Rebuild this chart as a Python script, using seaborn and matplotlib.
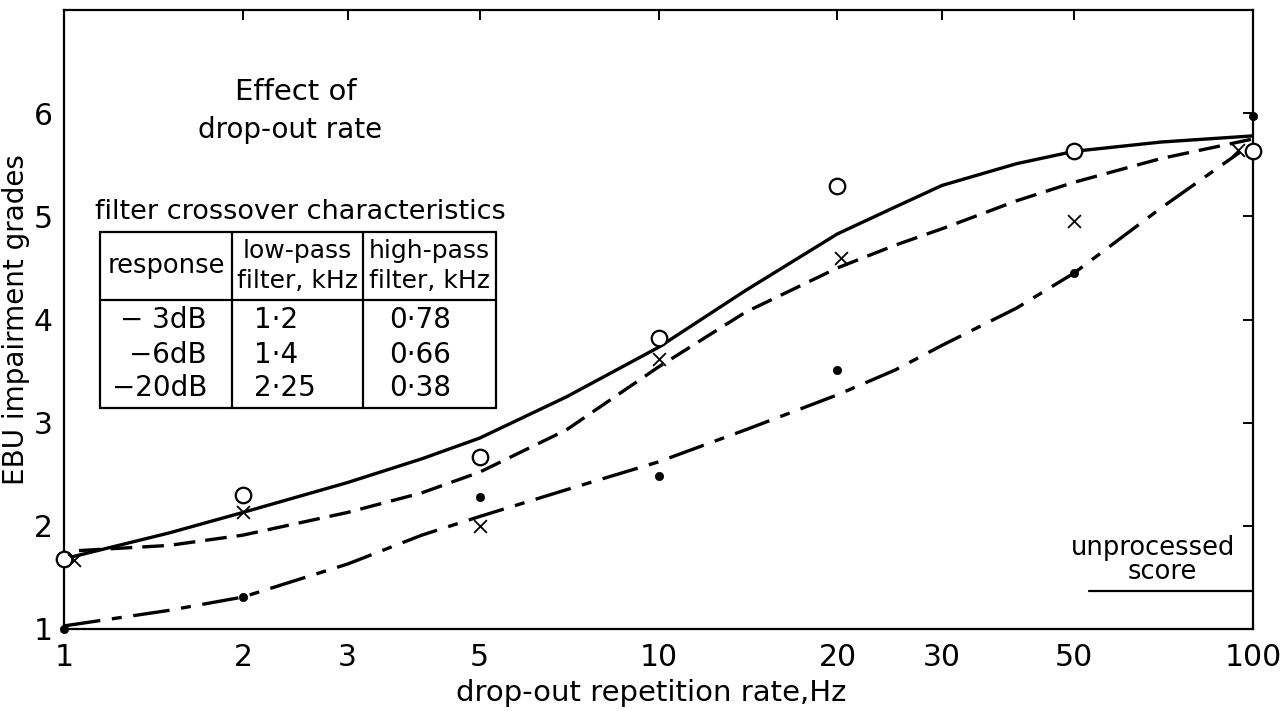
import matplotlib
matplotlib.use("Agg")
import matplotlib.pyplot as plt
from matplotlib.ticker import NullLocator, FixedLocator, FixedFormatter
import seaborn as sns

# measured points (open circles, crosses, filled dots)
circles_x = [1, 2, 5, 10, 20, 50, 100]
circles_y = [1.68, 2.30, 2.67, 3.82, 5.29, 5.63, 5.63]
crosses_x = [1.04, 2, 5, 10, 20.3, 50, 94.5]
crosses_y = [1.67, 2.13, 2.00, 3.62, 4.60, 4.95, 5.64]
dots_x = [1, 2, 5, 10, 20, 50, 100]
dots_y = [1.00, 1.31, 2.28, 2.48, 3.51, 4.45, 5.97]

solid_x = [1, 1.5, 2, 3, 4, 5, 7, 10, 14, 20, 25, 30, 40, 50, 70, 100]
solid_y = [1.68, 1.93, 2.13, 2.42, 2.65, 2.85, 3.25, 3.73, 4.28, 4.83, 5.09, 5.30, 5.51, 5.63, 5.72, 5.78]
dashed_x = [1.06, 1.5, 2, 3, 4, 5, 7, 10, 14, 20, 25, 30, 40, 50, 70, 100]
dashed_y = [1.76, 1.81, 1.91, 2.13, 2.32, 2.52, 2.93, 3.54, 4.07, 4.50, 4.72, 4.88, 5.15, 5.33, 5.56, 5.75]
dashdot_x = [1, 1.5, 2, 3, 4, 5, 7, 10, 14, 20, 25, 30, 40, 50, 70, 95]
dashdot_y = [1.03, 1.18, 1.31, 1.63, 1.91, 2.09, 2.35, 2.62, 2.93, 3.27, 3.51, 3.75, 4.11, 4.45, 5.08, 5.62]

unprocessed_score = 1.37
unprocessed_span = [53, 100]

x_ticks = [1, 2, 3, 5, 10, 20, 30, 50, 100]
y_ticks = [1, 2, 3, 4, 5, 6]

table_header = ["response", "low-pass\nfilter, kHz", "high-pass\nfilter, kHz"]
table_response = ["\u2212 3dB", "\u22126dB", "\u221220dB"]
table_lowpass = ["1\u00b72", "1\u00b74", "2\u00b725"]
table_highpass = ["0\u00b778", "0\u00b766", "0\u00b738"]

sns.set_style("white")
plt.rcParams['font.family'] = ['DejaVu Sans']
plt.rcParams['text.color'] = 'black'
plt.rcParams['axes.labelcolor'] = 'black'

fig = plt.figure(figsize=(12.88, 7.11), dpi=100)
ax = fig.add_axes([64 / 1288, 82 / 711, 1189 / 1288, 619 / 711])

lw = 2.4
sns.lineplot(x=solid_x, y=solid_y, ax=ax, color='black', lw=lw, sort=False, estimator=None)
sns.lineplot(x=dashed_x, y=dashed_y, ax=ax, color='black', lw=lw, sort=False, estimator=None,
             linestyle=(0, (6.5, 3)))
sns.lineplot(x=dashdot_x, y=dashdot_y, ax=ax, color='black', lw=lw, sort=False, estimator=None,
             linestyle=(0, (11, 3.5, 3, 3.5)))

sns.scatterplot(x=circles_x, y=circles_y, ax=ax, marker='o', s=125, facecolor='white',
                edgecolor='black', linewidth=1.6, zorder=5, clip_on=False)
sns.scatterplot(x=crosses_x, y=crosses_y, ax=ax, marker='x', s=85, color='black',
                linewidth=1.3, zorder=5, clip_on=False)
sns.scatterplot(x=dots_x, y=dots_y, ax=ax, marker='o', s=36, color='black',
                edgecolor='black', zorder=5, clip_on=False)

ax.plot(unprocessed_span, [unprocessed_score] * 2, color='black', lw=1.6)
ax.text(0.916, 0.131, "unprocessed", transform=ax.transAxes, ha='center', va='center', fontsize=18.5)
ax.text(0.924, 0.092, "score", transform=ax.transAxes, ha='center', va='center', fontsize=18.5)

ax.set_xscale('log')
ax.set_xlim(1, 100)
ax.set_ylim(1, 7)
ax.xaxis.set_major_locator(FixedLocator(x_ticks))
ax.xaxis.set_major_formatter(FixedFormatter([str(t) for t in x_ticks]))
ax.xaxis.set_minor_locator(NullLocator())
ax.set_yticks(y_ticks)

for sp in ax.spines.values():
    sp.set_linewidth(1.6)
    sp.set_color('black')
ax.tick_params(which='major', direction='in', length=7, width=1.4, top=True, right=True,
               labelsize=21.5, colors='black')
ax.tick_params(axis='x', pad=10)
ax.tick_params(axis='y', pad=8)

ax.set_xlabel("drop-out repetition rate,Hz", fontsize=21)
ax.set_ylabel("EBU impairment grades", fontsize=20)
ax.xaxis.set_label_coords(0.494, -0.080)
ax.yaxis.set_label_coords(-0.029, 0.5)

# title block
ax.text(0.195, 0.868, "Effect of", transform=ax.transAxes, ha='center', va='center', fontsize=21)
ax.text(0.190, 0.806, "drop-out rate", transform=ax.transAxes, ha='center', va='center', fontsize=20)
ax.text(0.026, 0.674, "filter crossover characteristics", transform=ax.transAxes,
        ha='left', va='center', fontsize=19.5)

# table drawn by hand
xs = [0.0303, 0.1413, 0.2515, 0.3633]
y_top, y_head, y_bot = 0.6414, 0.5315, 0.3570
tkw = dict(transform=ax.transAxes, color='black', lw=1.6, clip_on=False)
for xv in xs:
    ax.plot([xv, xv], [y_bot, y_top], **tkw)
for yv in (y_top, y_head, y_bot):
    ax.plot([xs[0], xs[-1]], [yv, yv], **tkw)

ax.text(0.0858, 0.5864, table_header[0], transform=ax.transAxes, ha='center', va='center', fontsize=18.5)
ax.text(0.196, 0.5864, table_header[1], transform=ax.transAxes, ha='center', va='center',
        fontsize=18, linespacing=1.3)
ax.text(0.3075, 0.5864, table_header[2], transform=ax.transAxes, ha='center', va='center',
        fontsize=18, linespacing=1.3)
row_y = [0.4992, 0.4426, 0.3893]
for i, ry in enumerate(row_y):
    ax.text(0.1203, ry, table_response[i], transform=ax.transAxes, ha='right', va='center', fontsize=20)
    ax.text(0.160, ry, table_lowpass[i], transform=ax.transAxes, ha='left', va='center', fontsize=20)
    ax.text(0.2994, ry, table_highpass[i], transform=ax.transAxes, ha='center', va='center', fontsize=20)

fig.savefig("out.png", dpi=100, facecolor='white')
